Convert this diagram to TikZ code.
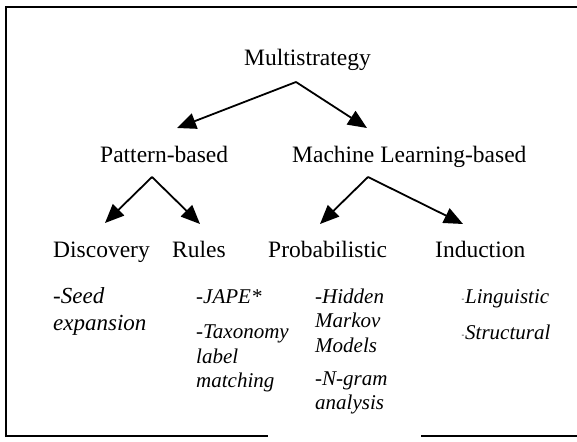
\documentclass[tikz,border=0pt]{standalone}
\usepackage{fontspec}
\setmainfont{Liberation Serif}
\usetikzlibrary{arrows.meta}

\tikzset{
  frame/.style={line width=2.2pt},
  head/.style={inner sep=0pt, anchor=base west, font=\fontsize{23.5}{26}\selectfont},
  item/.style={inner sep=0pt, anchor=base west, font=\fontsize{21}{24.5}\selectfont\itshape},
  bigitem/.style={inner sep=0pt, anchor=base west, font=\fontsize{23}{27}\selectfont\itshape},
  dotitem/.style={inner sep=0pt, anchor=base west, font=\fontsize{8}{9}\selectfont\itshape},
  arr/.style={line width=1.8pt, -{Triangle[length=19pt,width=16pt]}}
}

\begin{document}
\begin{tikzpicture}[x=1pt,y=-1pt]
\useasboundingbox (0,0) rectangle (577,441);

% open frame: left side, top, and a bottom edge with a gap
\draw[frame] (6,437.1) -- (6,7) -- (577,7);
\draw[frame] (4.9,436) -- (268,436);
\draw[frame] (421,436) -- (577,436);

% tree labels
\node[head] (ms)   at (244,66)  {Multistrategy};
\node[head] (pb)   at (100,162) {Pattern-based};
\node[head] (ml)   at (292,162) {Machine Learning-based};
\node[head] (disc) at (53,257)  {Discovery};
\node[head] (rul)  at (172,257) {Rules};
\node[head] (prob) at (268,257) {Probabilistic};
\node[head] (ind)  at (435,257) {Induction};

% branching points under each parent and arrow tips above each child
\coordinate (ms-out)   at (296,82);
\coordinate (pb-in)    at (177,128);
\coordinate (ml-in)    at (367,128);
\coordinate (pb-out)   at (152,177);
\coordinate (disc-in)  at (105,223);
\coordinate (rul-in)   at (200,224);
\coordinate (ml-out)   at (368,177);
\coordinate (prob-in)  at (320,224);
\coordinate (ind-in)   at (463,224);

\draw[arr] (ms-out) -- (pb-in);
\draw[arr] (ms-out) -- (ml-in);
\draw[arr] (pb-out) -- (disc-in);
\draw[arr] (pb-out) -- (rul-in);
\draw[arr] (ml-out) -- (prob-in);
\draw[arr] (ml-out) -- (ind-in);

% examples under Discovery
\node[bigitem] (d1) at (53,303) {-Seed};
\node[bigitem] (d2) at (53,330) {expansion};

% examples under Rules
\node[item] (r1) at (196,303) {-JAPE*};
\node[item] (r2) at (196,338) {-Taxonomy};
\node[item] (r3) at (196,363) {label};
\node[item] (r4) at (196,387) {matching};

% examples under Probabilistic
\node[item] (p1) at (315,303) {-Hidden};
\node[item] (p2) at (315,327) {Markov};
\node[item] (p3) at (315,352) {Models};
\node[item] (p4) at (315,385) {-N-gram};
\node[item] (p5) at (315,409) {analysis};

% examples under Induction
\node[dotitem] (i0a) at (461.5,301) {-};
\node[item] (i1) at (465,303) {Linguistic};
\node[dotitem] (i0b) at (461.5,337) {-};
\node[item] (i2) at (465,339) {Structural};
\end{tikzpicture}
\end{document}
